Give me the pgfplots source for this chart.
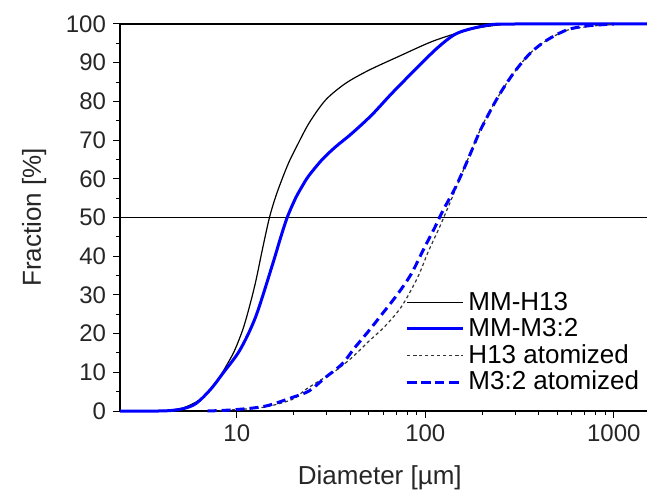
\documentclass[border=0pt]{standalone}
\usepackage{fontspec}
\setmainfont{Liberation Sans}
\usepackage{pgfplots}
\pgfplotsset{compat=1.18}
\definecolor{pblue}{RGB}{0,0,255}

\begin{document}
\begin{tikzpicture}
\useasboundingbox (-60pt,-41pt) rectangle (263.5pt,205.5pt);
\begin{axis}[
    at={(0,0)}, anchor=south west,
    scale only axis, width=263.5pt, height=193.5pt,
    xmode=log, xmin=2.4, xmax=1500, ymin=0, ymax=100,
    axis x line*=bottom, axis y line*=left,
    axis line style={black, line width=0.6pt, -},
    xtick={10,100,1000}, xticklabels={10,100,1000},
    ytick={0,10,...,100}, minor ytick={5,15,...,95},
    tick align=outside, major tick length=3.5pt, minor tick length=2pt,
    tick style={black, line width=0.5pt},
    /pgf/number format/assume math mode=true,
    tick label style={font=\fontsize{12}{14}\selectfont, color=black!85},
    xlabel={Diameter [µm]}, ylabel={Fraction [\%]},
    label style={font=\fontsize{13}{15}\selectfont, color=black!85},
    xlabel style={at={(axis description cs:0.493,-0.172)}, anchor=center},
    ylabel style={at={(axis description cs:-0.163,0.5)}, anchor=center, rotate=0},
    clip=false,
    legend style={draw=none, fill=none, font=\fontsize{13}{15}\selectfont,
        at={(axis description cs:0.997,0.03)}, anchor=south east,
        row sep=-1.5pt, inner sep=1pt},
    legend cell align=left,
    legend image code/.code={\draw[#1] plot coordinates {(0pt,0pt) (28pt,0pt)};},
]
% reference lines at 50 and 100 %
\addplot[black, line width=0.6pt, forget plot] coordinates {(2.4,50) (1500,50)};
\addplot[black, line width=0.6pt, forget plot] coordinates {(2.4,100) (1500,100)};

% MM-H13
\addplot[black, line width=0.6pt, smooth] coordinates {
(2.4,0) (4.0,0.1) (4.5,0.3) (5.2,0.8) (6.39,3) (7.75,7.3) (8.75,11.5)
(9.7,15.5) (10.75,21) (11.6,26.5) (12.6,33.5) (13.7,42) (14.9,50)
(16.1,55.5) (17.5,60.3) (18.9,64.3) (20.5,67.8) (24.1,74.3) (29.5,80.3)
(37.6,84.6) (49.9,88) (72.1,91.6) (107.6,95.4) (149,97.7) (190,99)
(250,99.8) (300,100) (1500,100)};
\addlegendentry{MM-H13}

% MM-M3:2
\addplot[pblue, line width=1.5pt, smooth] coordinates {
(2.4,0) (4.4,0.1) (5.87,1.5) (7.2,5.4) (8.45,9.8) (10.4,15.8) (12.6,24.4)
(15.5,38) (17,44.5) (18.5,50) (20.5,55) (22.3,58.2) (24.1,60.8) (28.4,65)
(33.3,68.2) (40.7,71.7) (52,76.5) (66.2,82) (87.5,88) (117,94) (149,97.7)
(215,99.7) (300,100) (1500,100)};
\addlegendentry{MM-M3:2}

% H13 atomized
\addplot[black!80, line width=0.6pt, dash pattern=on 1.6pt off 1.4pt, smooth] coordinates {
(7,0) (9.5,0.3) (14,1) (19.7,3) (23.1,5.5) (27.4,7.8) (33.2,10.3) (40.8,13.8)
(50.1,18) (60.8,21.8) (74.8,27) (91,34.5) (103.3,41) (119,47.5) (129,51.5)
(137,54.5) (160,62.5) (197,73) (242,81) (294,87.3) (361,92.5) (444,95.9)
(566,98.4) (721,99.3) (1000,100)};
\addlegendentry{H13 atomized}

% M3:2 atomized
\addplot[pblue, line width=1.5pt, dash pattern=on 4.5pt off 2.5pt, smooth] coordinates {
(7,0) (9.5,0.3) (14,1.2) (19.7,3.5) (24.2,5.2) (29.4,8.6) (36.1,12.1)
(42.3,16.4) (50.1,20.7) (61.1,26) (71.8,30.4) (84.4,35.5) (99.1,42.3)
(112,47.3) (124,51.8) (142.6,57.2) (161,62.8) (178,67.8) (197,72.8)
(242,81) (294,87.3) (361,92.5) (444,95.9) (566,98.5) (721,99.5) (1000,100)};
\addlegendentry{M3:2 atomized}
\end{axis}
\end{tikzpicture}
\end{document}
